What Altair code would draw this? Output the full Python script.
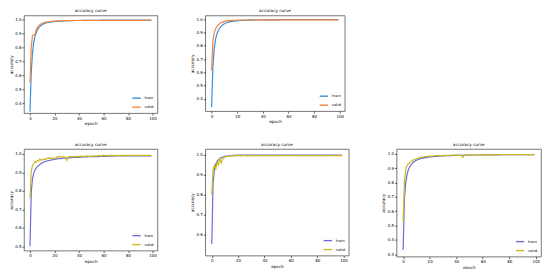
import altair as alt
import pandas as pd

epochs = list(range(100))

# ---- panel 1 (top-left)
train1 = [0.340, 0.620, 0.760, 0.835, 0.878, 0.905, 0.925, 0.940, 0.950, 0.958,
          0.964, 0.969, 0.973, 0.976, 0.978, 0.980, 0.982, 0.983, 0.984, 0.985,
          0.986, 0.987, 0.988, 0.989, 0.989, 0.990, 0.990, 0.991, 0.991, 0.992,
          0.992, 0.992, 0.993, 0.993, 0.993, 0.993, 0.994, 0.994, 0.994, 0.994,
          0.994, 0.994, 0.994, 0.995, 0.995, 0.995, 0.995, 0.995, 0.995, 0.995,
          0.995, 0.995, 0.995, 0.995, 0.995, 0.995, 0.995, 0.995, 0.996, 0.996,
          0.996, 0.996, 0.996, 0.996, 0.996, 0.996, 0.996, 0.996, 0.996, 0.996,
          0.996, 0.996, 0.996, 0.996, 0.996, 0.996, 0.996, 0.996, 0.996, 0.996,
          0.996, 0.996, 0.996, 0.996, 0.996, 0.996, 0.996, 0.996, 0.996, 0.996,
          0.996, 0.996, 0.996, 0.996, 0.996, 0.996, 0.996, 0.996, 0.996, 0.996]
valid1 = [0.550, 0.800, 0.885, 0.890, 0.895, 0.925, 0.945, 0.955, 0.964, 0.970,
          0.974, 0.978, 0.980, 0.982, 0.984, 0.985, 0.986, 0.987, 0.988, 0.989,
          0.990, 0.990, 0.991, 0.991, 0.992, 0.992, 0.992, 0.993, 0.993, 0.993,
          0.994, 0.993, 0.994, 0.994, 0.993, 0.994, 0.995, 0.994, 0.994, 0.995,
          0.994, 0.995, 0.994, 0.995, 0.995, 0.994, 0.995, 0.995, 0.994, 0.995,
          0.995, 0.994, 0.995, 0.995, 0.995, 0.994, 0.995, 0.995, 0.995, 0.994,
          0.995, 0.995, 0.994, 0.995, 0.995, 0.995, 0.994, 0.995, 0.995, 0.995,
          0.994, 0.995, 0.995, 0.995, 0.995, 0.994, 0.995, 0.995, 0.995, 0.995,
          0.994, 0.995, 0.995, 0.995, 0.994, 0.995, 0.995, 0.995, 0.995, 0.994,
          0.995, 0.995, 0.995, 0.995, 0.994, 0.995, 0.995, 0.995, 0.995, 0.995]

# ---- panel 2 (top-middle)
train2 = [0.340, 0.640, 0.775, 0.845, 0.885, 0.910, 0.928, 0.942, 0.952, 0.960,
          0.966, 0.971, 0.975, 0.978, 0.980, 0.982, 0.984, 0.985, 0.986, 0.987,
          0.988, 0.989, 0.990, 0.990, 0.991, 0.991, 0.992, 0.992, 0.992, 0.993,
          0.993, 0.993, 0.993, 0.994, 0.994, 0.994, 0.994, 0.994, 0.994, 0.995,
          0.995, 0.995, 0.995, 0.995, 0.995, 0.995, 0.995, 0.995, 0.995, 0.995,
          0.995, 0.995, 0.996, 0.996, 0.996, 0.996, 0.996, 0.996, 0.996, 0.996,
          0.996, 0.996, 0.996, 0.996, 0.996, 0.996, 0.996, 0.996, 0.996, 0.996,
          0.996, 0.996, 0.996, 0.996, 0.996, 0.996, 0.996, 0.996, 0.996, 0.996,
          0.996, 0.996, 0.996, 0.996, 0.996, 0.996, 0.996, 0.996, 0.996, 0.996,
          0.996, 0.996, 0.996, 0.996, 0.996, 0.996, 0.996, 0.996, 0.996, 0.996]
valid2 = [0.615, 0.835, 0.895, 0.925, 0.942, 0.955, 0.964, 0.971, 0.976, 0.980,
          0.983, 0.985, 0.987, 0.988, 0.989, 0.990, 0.991, 0.991, 0.992, 0.992,
          0.993, 0.993, 0.993, 0.994, 0.994, 0.994, 0.994, 0.994, 0.995, 0.994,
          0.995, 0.994, 0.995, 0.995, 0.994, 0.995, 0.995, 0.995, 0.994, 0.995,
          0.995, 0.995, 0.994, 0.995, 0.995, 0.995, 0.995, 0.994, 0.995, 0.995,
          0.995, 0.995, 0.995, 0.994, 0.995, 0.995, 0.995, 0.995, 0.995, 0.994,
          0.995, 0.995, 0.995, 0.995, 0.995, 0.995, 0.994, 0.995, 0.995, 0.995,
          0.995, 0.995, 0.995, 0.995, 0.994, 0.995, 0.995, 0.995, 0.995, 0.995,
          0.995, 0.995, 0.994, 0.995, 0.995, 0.995, 0.995, 0.995, 0.995, 0.995,
          0.994, 0.995, 0.995, 0.995, 0.995, 0.995, 0.995, 0.995, 0.995, 0.995]

# ---- panel 3 (bottom-left)
train3 = [0.500, 0.790, 0.865, 0.895, 0.912, 0.923, 0.931, 0.938, 0.943, 0.948,
          0.952, 0.955, 0.958, 0.960, 0.962, 0.964, 0.966, 0.967, 0.968, 0.970,
          0.971, 0.972, 0.973, 0.974, 0.975, 0.975, 0.976, 0.977, 0.977, 0.978,
          0.978, 0.979, 0.979, 0.980, 0.980, 0.981, 0.981, 0.981, 0.982, 0.982,
          0.982, 0.983, 0.983, 0.983, 0.984, 0.984, 0.984, 0.984, 0.985, 0.985,
          0.985, 0.985, 0.986, 0.986, 0.986, 0.986, 0.986, 0.987, 0.987, 0.987,
          0.987, 0.987, 0.987, 0.988, 0.988, 0.988, 0.988, 0.988, 0.988, 0.989,
          0.989, 0.989, 0.989, 0.989, 0.989, 0.989, 0.989, 0.989, 0.990, 0.990,
          0.990, 0.990, 0.990, 0.990, 0.990, 0.990, 0.990, 0.990, 0.990, 0.990,
          0.990, 0.990, 0.990, 0.990, 0.990, 0.990, 0.990, 0.990, 0.990, 0.990]
valid3 = [0.760, 0.905, 0.935, 0.948, 0.958, 0.955, 0.965, 0.962, 0.972, 0.966,
          0.970, 0.968, 0.974, 0.970, 0.976, 0.980, 0.975, 0.978, 0.976, 0.979,
          0.974, 0.980, 0.983, 0.985, 0.984, 0.986, 0.982, 0.985, 0.984, 0.980,
          0.965, 0.983, 0.985, 0.984, 0.986, 0.985, 0.987, 0.986, 0.984, 0.987,
          0.986, 0.988, 0.987, 0.986, 0.988, 0.987, 0.988, 0.989, 0.987, 0.988,
          0.989, 0.988, 0.990, 0.989, 0.988, 0.990, 0.991, 0.989, 0.990, 0.991,
          0.992, 0.991, 0.992, 0.990, 0.991, 0.993, 0.991, 0.992, 0.990, 0.992,
          0.991, 0.993, 0.992, 0.991, 0.992, 0.990, 0.992, 0.993, 0.991, 0.992,
          0.991, 0.992, 0.993, 0.992, 0.991, 0.992, 0.993, 0.992, 0.991, 0.992,
          0.993, 0.992, 0.991, 0.992, 0.992, 0.993, 0.992, 0.991, 0.992, 0.992]

# ---- panel 4 (bottom-middle)
train4 = [0.555, 0.860, 0.925, 0.952, 0.966, 0.974, 0.980, 0.984, 0.987, 0.989,
          0.991, 0.992, 0.993, 0.994, 0.995, 0.995, 0.996, 0.996, 0.996, 0.997,
          0.997, 0.997, 0.997, 0.997, 0.997, 0.997, 0.997, 0.998, 0.998, 0.998,
          0.998, 0.998, 0.998, 0.998, 0.998, 0.998, 0.998, 0.998, 0.998, 0.998,
          0.998, 0.998, 0.998, 0.998, 0.998, 0.998, 0.998, 0.998, 0.998, 0.998,
          0.998, 0.998, 0.998, 0.998, 0.998, 0.998, 0.998, 0.998, 0.998, 0.998,
          0.998, 0.998, 0.998, 0.998, 0.998, 0.998, 0.998, 0.998, 0.998, 0.998,
          0.998, 0.998, 0.998, 0.998, 0.998, 0.998, 0.998, 0.998, 0.998, 0.998,
          0.998, 0.998, 0.998, 0.998, 0.998, 0.998, 0.998, 0.998, 0.998, 0.998,
          0.998, 0.998, 0.998, 0.998, 0.998, 0.998, 0.998, 0.998, 0.998, 0.998]
valid4 = [0.800, 0.930, 0.945, 0.925, 0.962, 0.948, 0.985, 0.958, 0.975, 0.984,
          0.988, 0.990, 0.991, 0.993, 0.993, 0.994, 0.994, 0.995, 0.994, 0.995,
          0.995, 0.995, 0.994, 0.995, 0.995, 0.995, 0.995, 0.994, 0.995, 0.995,
          0.994, 0.995, 0.995, 0.995, 0.995, 0.995, 0.994, 0.995, 0.995, 0.995,
          0.995, 0.995, 0.995, 0.994, 0.995, 0.995, 0.995, 0.995, 0.995, 0.995,
          0.995, 0.994, 0.995, 0.995, 0.995, 0.995, 0.995, 0.995, 0.994, 0.995,
          0.995, 0.995, 0.995, 0.995, 0.995, 0.994, 0.995, 0.995, 0.995, 0.995,
          0.995, 0.995, 0.994, 0.995, 0.995, 0.995, 0.995, 0.995, 0.995, 0.995,
          0.994, 0.995, 0.995, 0.995, 0.995, 0.995, 0.995, 0.994, 0.995, 0.995,
          0.995, 0.995, 0.995, 0.995, 0.994, 0.995, 0.995, 0.995, 0.995, 0.995]

# ---- panel 5 (bottom-right)
train5 = [0.330, 0.690, 0.800, 0.858, 0.890, 0.910, 0.924, 0.935, 0.943, 0.950,
          0.955, 0.959, 0.963, 0.966, 0.968, 0.970, 0.972, 0.974, 0.975, 0.977,
          0.978, 0.979, 0.980, 0.981, 0.982, 0.983, 0.983, 0.984, 0.985, 0.985,
          0.986, 0.986, 0.987, 0.987, 0.987, 0.988, 0.988, 0.988, 0.989, 0.989,
          0.989, 0.989, 0.990, 0.990, 0.990, 0.990, 0.991, 0.991, 0.991, 0.991,
          0.991, 0.992, 0.992, 0.992, 0.992, 0.992, 0.992, 0.992, 0.992, 0.993,
          0.993, 0.993, 0.993, 0.993, 0.993, 0.993, 0.993, 0.993, 0.993, 0.993,
          0.993, 0.993, 0.993, 0.994, 0.994, 0.994, 0.994, 0.994, 0.994, 0.994,
          0.994, 0.994, 0.994, 0.994, 0.994, 0.994, 0.994, 0.994, 0.994, 0.994,
          0.994, 0.994, 0.994, 0.994, 0.994, 0.994, 0.994, 0.994, 0.994, 0.994]
valid5 = [0.525, 0.810, 0.890, 0.920, 0.932, 0.940, 0.948, 0.952, 0.960, 0.962,
          0.966, 0.970, 0.972, 0.975, 0.977, 0.978, 0.980, 0.981, 0.982, 0.983,
          0.984, 0.985, 0.985, 0.986, 0.986, 0.987, 0.987, 0.988, 0.988, 0.988,
          0.989, 0.988, 0.989, 0.990, 0.989, 0.990, 0.990, 0.989, 0.990, 0.991,
          0.990, 0.991, 0.990, 0.991, 0.990, 0.976, 0.991, 0.992, 0.991, 0.992,
          0.992, 0.991, 0.992, 0.993, 0.992, 0.993, 0.992, 0.993, 0.993, 0.992,
          0.993, 0.993, 0.994, 0.993, 0.993, 0.994, 0.993, 0.994, 0.994, 0.993,
          0.994, 0.994, 0.993, 0.994, 0.994, 0.995, 0.994, 0.994, 0.995, 0.994,
          0.994, 0.995, 0.994, 0.995, 0.995, 0.994, 0.995, 0.995, 0.994, 0.995,
          0.995, 0.995, 0.994, 0.995, 0.995, 0.995, 0.995, 0.994, 0.995, 0.995]

series_names = ["train", "valid"]
x_ticks = [0, 20, 40, 60, 80, 100]
colors_a = ["#3a8fd6", "#f5843a"]
colors_b = ["#6a6ed6", "#cbb81c"]

FONT = "DejaVu Sans"


def panel(train, valid, ydom, yticks, colors, w, h):
    df = pd.DataFrame({
        "epoch": epochs + epochs,
        "accuracy": train + valid,
        "series": ["train"] * len(train) + ["valid"] * len(valid),
    })
    return alt.Chart(df, title="accuracy curve").mark_line(strokeWidth=1.2).encode(
        x=alt.X("epoch:Q", title="epoch",
                scale=alt.Scale(domain=[-4.95, 103.95], nice=False, zero=False),
                axis=alt.Axis(values=x_ticks, format="d")),
        y=alt.Y("accuracy:Q", title="accuracy",
                scale=alt.Scale(domain=ydom, nice=False, zero=False),
                axis=alt.Axis(values=yticks, format=".1f")),
        color=alt.Color("series:N",
                        scale=alt.Scale(domain=series_names, range=colors),
                        legend=alt.Legend(title=None, orient="bottom-right", offset=3,
                                          symbolType="stroke", symbolSize=70,
                                          symbolStrokeWidth=1.4, labelFontSize=3.8,
                                          rowPadding=1, padding=0, labelFont=FONT,
                                          labelColor="black", labelOffset=3)),
        order=alt.Order("epoch:Q"),
    ).properties(width=w, height=h)


p1 = panel(train1, valid1, [0.33, 1.03], [0.4, 0.5, 0.6, 0.7, 0.8, 0.9, 1.0], colors_a, 134, 98)
p2 = panel(train2, valid2, [0.309, 1.028], [0.4, 0.5, 0.6, 0.7, 0.8, 0.9, 1.0], colors_a, 140, 96)
p3 = panel(train3, valid3, [0.477, 1.027], [0.5, 0.6, 0.7, 0.8, 0.9, 1.0], colors_b, 134, 102)
p4 = panel(train4, valid4, [0.497, 1.028], [0.6, 0.7, 0.8, 0.9, 1.0], colors_b, 144, 107)
p5 = panel(train5, valid5, [0.284, 1.034], [0.3, 0.4, 0.5, 0.6, 0.7, 0.8, 0.9, 1.0], colors_b, 145, 108)

blank = alt.Chart(pd.DataFrame({"a": [0]})).mark_point(opacity=0).encode(
    x=alt.X("a:Q", axis=None), y=alt.Y("a:Q", axis=None)
).properties(width=1, height=95, view=alt.ViewBackground(stroke="transparent"))

chart = alt.concat(
    p1, p2, blank, p3, p4, p5,
    columns=3, spacing={"row": 36, "column": 48}, bounds="flush", align="none",
).resolve_scale(color="independent", x="independent", y="independent").properties(
    padding=0
).configure_view(stroke="#555555", strokeWidth=0.8).configure_axis(
    labelFontSize=4, titleFontSize=4.2, tickSize=2, labelPadding=1, titlePadding=1.5,
    domain=False, grid=False, labelFont=FONT, titleFont=FONT, tickColor="black",
    labelColor="black", titleColor="black", titleFontWeight="normal", labelOverlap=False,
    tickWidth=0.6,
).configure_title(fontSize=4.2, offset=2, font=FONT, fontWeight="normal", anchor="middle",
                  color="black")

chart.save("out.html", embed_options={"renderer": "svg", "actions": False})
